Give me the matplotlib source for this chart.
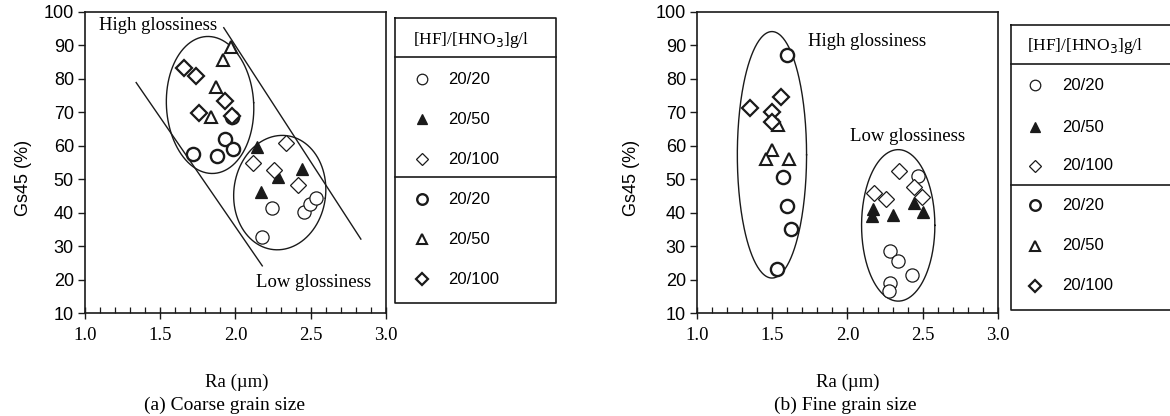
import numpy as np
import matplotlib
matplotlib.use("Agg")
import matplotlib.pyplot as plt

# ---------------- data ----------------
# (a) Coarse grain size
a_low_circle_ra = [2.24, 2.456, 2.496, 2.533, 2.178]
a_low_circle_gs = [41.5, 40.3, 42.6, 44.3, 32.6]
a_low_tri_ra = [2.14, 2.28, 2.44, 2.171]
a_low_tri_gs = [59.5, 50.8, 53.0, 46.2]
a_low_dia_ra = [2.338, 2.118, 2.256, 2.418]
a_low_dia_gs = [60.9, 54.8, 52.8, 48.3]
a_high_circle_ra = [1.978, 1.929, 1.984, 1.718, 1.878]
a_high_circle_gs = [68.7, 61.9, 59.1, 57.5, 56.8]
a_high_tri_ra = [1.971, 1.918, 1.871, 1.84]
a_high_tri_gs = [89.6, 85.6, 77.5, 68.5]
a_high_dia_ra = [1.66, 1.74, 1.929, 1.756, 1.978]
a_high_dia_gs = [83.3, 80.8, 73.5, 69.9, 68.9]

# (b) Fine grain size
b_low_circle_ra = [2.471, 2.282, 2.338, 2.426, 2.282, 2.278]
b_low_circle_gs = [51.0, 28.4, 25.4, 21.4, 19.0, 16.5]
b_low_tri_ra = [2.172, 2.163, 2.305, 2.442, 2.504]
b_low_tri_gs = [41.0, 39.1, 39.4, 42.8, 40.3]
b_low_dia_ra = [2.178, 2.256, 2.342, 2.442, 2.493]
b_low_dia_gs = [45.8, 44.1, 52.6, 47.6, 44.8]
b_high_circle_ra = [1.60, 1.574, 1.596, 1.622, 1.534]
b_high_circle_gs = [87.1, 50.8, 42.0, 35.1, 23.1]
b_high_tri_ra = [1.54, 1.496, 1.458, 1.613]
b_high_tri_gs = [66.2, 58.8, 56.0, 56.1]
b_high_dia_ra = [1.352, 1.496, 1.556, 1.496]
b_high_dia_gs = [71.4, 70.0, 74.7, 67.2]

legend_title = "[HF]/[HNO$_3$]g/l"
legend_labels = ["20/20", "20/50", "20/100", "20/20", "20/50", "20/100"]
x_ticks = [1.0, 1.5, 2.0, 2.5, 3.0]
y_ticks = [10, 20, 30, 40, 50, 60, 70, 80, 90, 100]

# ---------------- layout ----------------
W, H = 1170, 416
fig = plt.figure(figsize=(W / 100, H / 100), dpi=100)
SERIF = ["Liberation Serif", "DejaVu Serif"]
SANS = ["Liberation Sans", "DejaVu Sans"]
K = "#1a1a1a"


def px_axes(x0, y0, x1, y1):
    return fig.add_axes([x0 / W, 1 - y1 / H, (x1 - x0) / W, (y1 - y0) / H])


# marker styles: group 1 (thin), group 2 (bold)
STY = {
    "c1": dict(marker="o", ms=9.5, mfc="white", mec=K, mew=0.9),
    "t1": dict(marker="^", ms=8.5, mfc=K, mec=K, mew=0.9),
    "d1": dict(marker="D", ms=8.0, mfc="white", mec=K, mew=0.9),
    "c2": dict(marker="o", ms=9.5, mfc="white", mec=K, mew=1.7),
    "t2": dict(marker="^", ms=8.5, mfc="white", mec=K, mew=1.5),
    "d2": dict(marker="D", ms=8.0, mfc="white", mec=K, mew=1.6),
}


def ellipse(ax, cx, cy, w, h, tilt_deg, xpx=150.5, ypx=3.345):
    t = np.linspace(0, 2 * np.pi, 300)
    a, b = w / 2 * xpx, h / 2 * ypx
    th = np.deg2rad(tilt_deg)
    u = a * np.cos(t)
    v = b * np.sin(t)
    xr = u * np.cos(th) - v * np.sin(th)
    yr = u * np.sin(th) + v * np.cos(th)
    ax.plot(cx + xr / xpx, cy + yr / ypx, color=K, lw=1.0, zorder=1)


def setup(ax):
    ax.set_xlim(1.0, 3.0)
    ax.set_ylim(10, 100)
    ax.set_xticks(x_ticks)
    ax.set_xticklabels([f"{v:.1f}" for v in x_ticks], family=SERIF, fontsize=13.5)
    ax.set_xticks(np.arange(1.0, 3.0001, 0.1), minor=True)
    ax.set_yticks(y_ticks)
    ax.set_yticklabels([str(v) for v in y_ticks], family=SANS, fontsize=13)
    ax.tick_params(axis="x", which="major", direction="inout", length=8, width=1, pad=6, color=K)
    ax.tick_params(axis="x", which="minor", direction="in", length=4, width=0.9, color=K)
    ax.tick_params(axis="y", which="major", direction="out", length=5, width=1, pad=3, color=K)
    for s in ax.spines.values():
        s.set_linewidth(1.2)
        s.set_color(K)


def draw_series(ax, data):
    for key, xs, ys in data:
        ax.plot(xs, ys, ls="none", zorder=3, **STY[key])


def legend_box(x0, y0, x1, y1, sep1, sep2, rows, mx, tx, title_x, title_y):
    lax = px_axes(0, 0, W, H)
    lax.set_xlim(0, W)
    lax.set_ylim(H, 0)
    lax.axis("off")
    lax.patch.set_alpha(0)
    lax.plot([x0, x1, x1, x0, x0], [y0, y0, y1, y1, y0], color=K, lw=1.2)
    lax.plot([x0, x1], [sep1, sep1], color=K, lw=1.2)
    lax.plot([x0, x1], [sep2, sep2], color=K, lw=1.2)
    lax.text(title_x, title_y, legend_title, family=SERIF, fontsize=12.5, va="center", ha="left")
    keys = ["c1", "t1", "d1", "c2", "t2", "d2"]
    for key, lab, ry in zip(keys, legend_labels, rows):
        st = dict(STY[key])
        st["ms"] = st["ms"] * 0.8
        lax.plot([mx], [ry], ls="none", **st)
        lax.text(tx, ry, lab, family=SANS, fontsize=12, va="center", ha="left")


# ---------- panel (a) ----------
ax1 = px_axes(85, 12, 386, 313)
setup(ax1)
ellipse(ax1, 1.831, 72.2, 0.58, 41.0, 3)
ellipse(ax1, 2.294, 46.0, 0.61, 34.3, -7)
ax1.plot([1.34, 2.178], [78.9, 24.1], color=K, lw=1.0, zorder=1)
ax1.plot([1.922, 2.833], [95.3, 32.1], color=K, lw=1.0, zorder=1)
draw_series(ax1, [
    ("c1", a_low_circle_ra, a_low_circle_gs),
    ("t1", a_low_tri_ra, a_low_tri_gs),
    ("d1", a_low_dia_ra, a_low_dia_gs),
    ("c2", a_high_circle_ra, a_high_circle_gs),
    ("t2", a_high_tri_ra, a_high_tri_gs),
    ("d2", a_high_dia_ra, a_high_dia_gs),
])
ax1.text(1.09, 96.1, "High glossiness", family=SERIF, fontsize=13.5, va="center", ha="left")
ax1.text(2.133, 19.0, "Low glossiness", family=SERIF, fontsize=13.5, va="center", ha="left")

# ---------- panel (b) ----------
ax2 = px_axes(697, 12, 998, 313)
setup(ax2)
ellipse(ax2, 1.498, 57.3, 0.46, 73.7, 0)
ellipse(ax2, 2.337, 36.2, 0.487, 45.3, 0)
draw_series(ax2, [
    ("c1", b_low_circle_ra, b_low_circle_gs),
    ("t1", b_low_tri_ra, b_low_tri_gs),
    ("d1", b_low_dia_ra, b_low_dia_gs),
    ("c2", b_high_circle_ra, b_high_circle_gs),
    ("t2", b_high_tri_ra, b_high_tri_gs),
    ("d2", b_high_dia_ra, b_high_dia_gs),
])
ax2.text(1.74, 91.1, "High glossiness", family=SERIF, fontsize=13.5, va="center", ha="left")
ax2.text(2.017, 62.7, "Low glossiness", family=SERIF, fontsize=13.5, va="center", ha="left")

# axis labels and captions
for ylx in (24, 632):
    fig.text(ylx / W, 1 - 178 / H, "Gs45 (%)", family=SANS, fontsize=13, rotation=90,
             ha="center", va="center")
fig.text(237 / W, 1 - 382 / H, "Ra (\u00b5m)", family=SERIF, fontsize=13.5, ha="center", va="center")
fig.text(225 / W, 1 - 405 / H, "(a) Coarse grain size", family=SERIF, fontsize=14, ha="center", va="center")
fig.text(848 / W, 1 - 382 / H, "Ra (\u00b5m)", family=SERIF, fontsize=13.5, ha="center", va="center")
fig.text(845 / W, 1 - 405 / H, "(b) Fine grain size", family=SERIF, fontsize=14, ha="center", va="center")

# legends
legend_box(395, 18, 556, 303, 57, 177, [79, 119, 159, 199, 239, 279], 422, 448, 413, 40)
legend_box(1011, 25, 1180, 310, 64, 185, [85, 127, 166, 205, 246, 286], 1035, 1062, 1027, 46)

fig.savefig("out.png", dpi=100)
